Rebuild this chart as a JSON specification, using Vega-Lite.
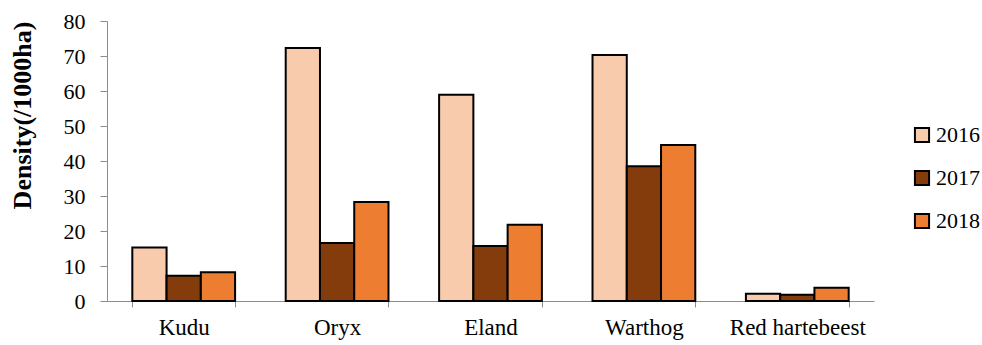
{
  "$schema": "https://vega.github.io/schema/vega-lite/v6.json",
  "width": 767,
  "height": 280,
  "autosize": {"type": "none"},
  "padding": {"left": 107, "top": 21, "right": 108, "bottom": 44},
  "background": "white",
  "config": {"view": {"stroke": null}, "font": "Liberation Serif"},
  "data": {"values": [
    {"species": "Kudu", "year": "2016", "value": 15.3},
    {"species": "Kudu", "year": "2017", "value": 7.2},
    {"species": "Kudu", "year": "2018", "value": 8.2},
    {"species": "Oryx", "year": "2016", "value": 72.3},
    {"species": "Oryx", "year": "2017", "value": 16.6},
    {"species": "Oryx", "year": "2018", "value": 28.3},
    {"species": "Eland", "year": "2016", "value": 58.9},
    {"species": "Eland", "year": "2017", "value": 15.7},
    {"species": "Eland", "year": "2018", "value": 21.8},
    {"species": "Warthog", "year": "2016", "value": 70.3},
    {"species": "Warthog", "year": "2017", "value": 38.5},
    {"species": "Warthog", "year": "2018", "value": 44.6},
    {"species": "Red hartebeest", "year": "2016", "value": 2.1},
    {"species": "Red hartebeest", "year": "2017", "value": 1.8},
    {"species": "Red hartebeest", "year": "2018", "value": 3.8}
  ]},
  "mark": {"type": "bar", "stroke": "black", "strokeWidth": 2},
  "encoding": {
    "x": {
      "field": "species", "type": "nominal", "sort": null,
      "scale": {"paddingInner": 0.33, "paddingOuter": 0.165},
      "axis": {
        "title": null, "labelAngle": 0, "tickBand": "extent",
        "domainColor": "#8c8c8c", "tickColor": "#8c8c8c", "tickSize": 6,
        "labelFont": "Liberation Serif", "labelFontSize": 23, "labelColor": "black",
        "labelPadding": 9
      }
    },
    "xOffset": {"field": "year", "type": "nominal", "scale": {"paddingInner": 0, "paddingOuter": 0}},
    "y": {
      "field": "value", "type": "quantitative",
      "scale": {"domain": [0, 80], "nice": false},
      "axis": {
        "title": "Density(/1000ha)", "values": [0,10,20,30,40,50,60,70,80],
        "grid": false, "domainColor": "#8c8c8c", "tickColor": "#8c8c8c", "tickSize": 7,
        "labelFont": "Liberation Serif", "labelFontSize": 22, "labelColor": "black", "labelPadding": 15,
        "titleFont": "Liberation Serif", "titleFontSize": 26, "titleFontWeight": "bold", "titleColor": "black",
        "titleX": -85, "titleY": 94, "titleAngle": -90, "titleAlign": "center", "titleBaseline": "middle"
      }
    },
    "color": {
      "field": "year", "type": "nominal",
      "scale": {"domain": ["2016", "2017", "2018"], "range": ["#F8CBAD", "#843C0C", "#ED7D31"]},
      "legend": {
        "title": null, "orient": "none", "legendX": 804, "legendY": 103,
        "symbolType": "square", "symbolSize": 200, "symbolStrokeColor": "black", "symbolStrokeWidth": 2,
        "symbolOpacity": 1, "labelFont": "Liberation Serif", "labelFontSize": 22, "labelColor": "black",
        "labelOffset": 3, "rowPadding": 19
      }
    }
  }
}
